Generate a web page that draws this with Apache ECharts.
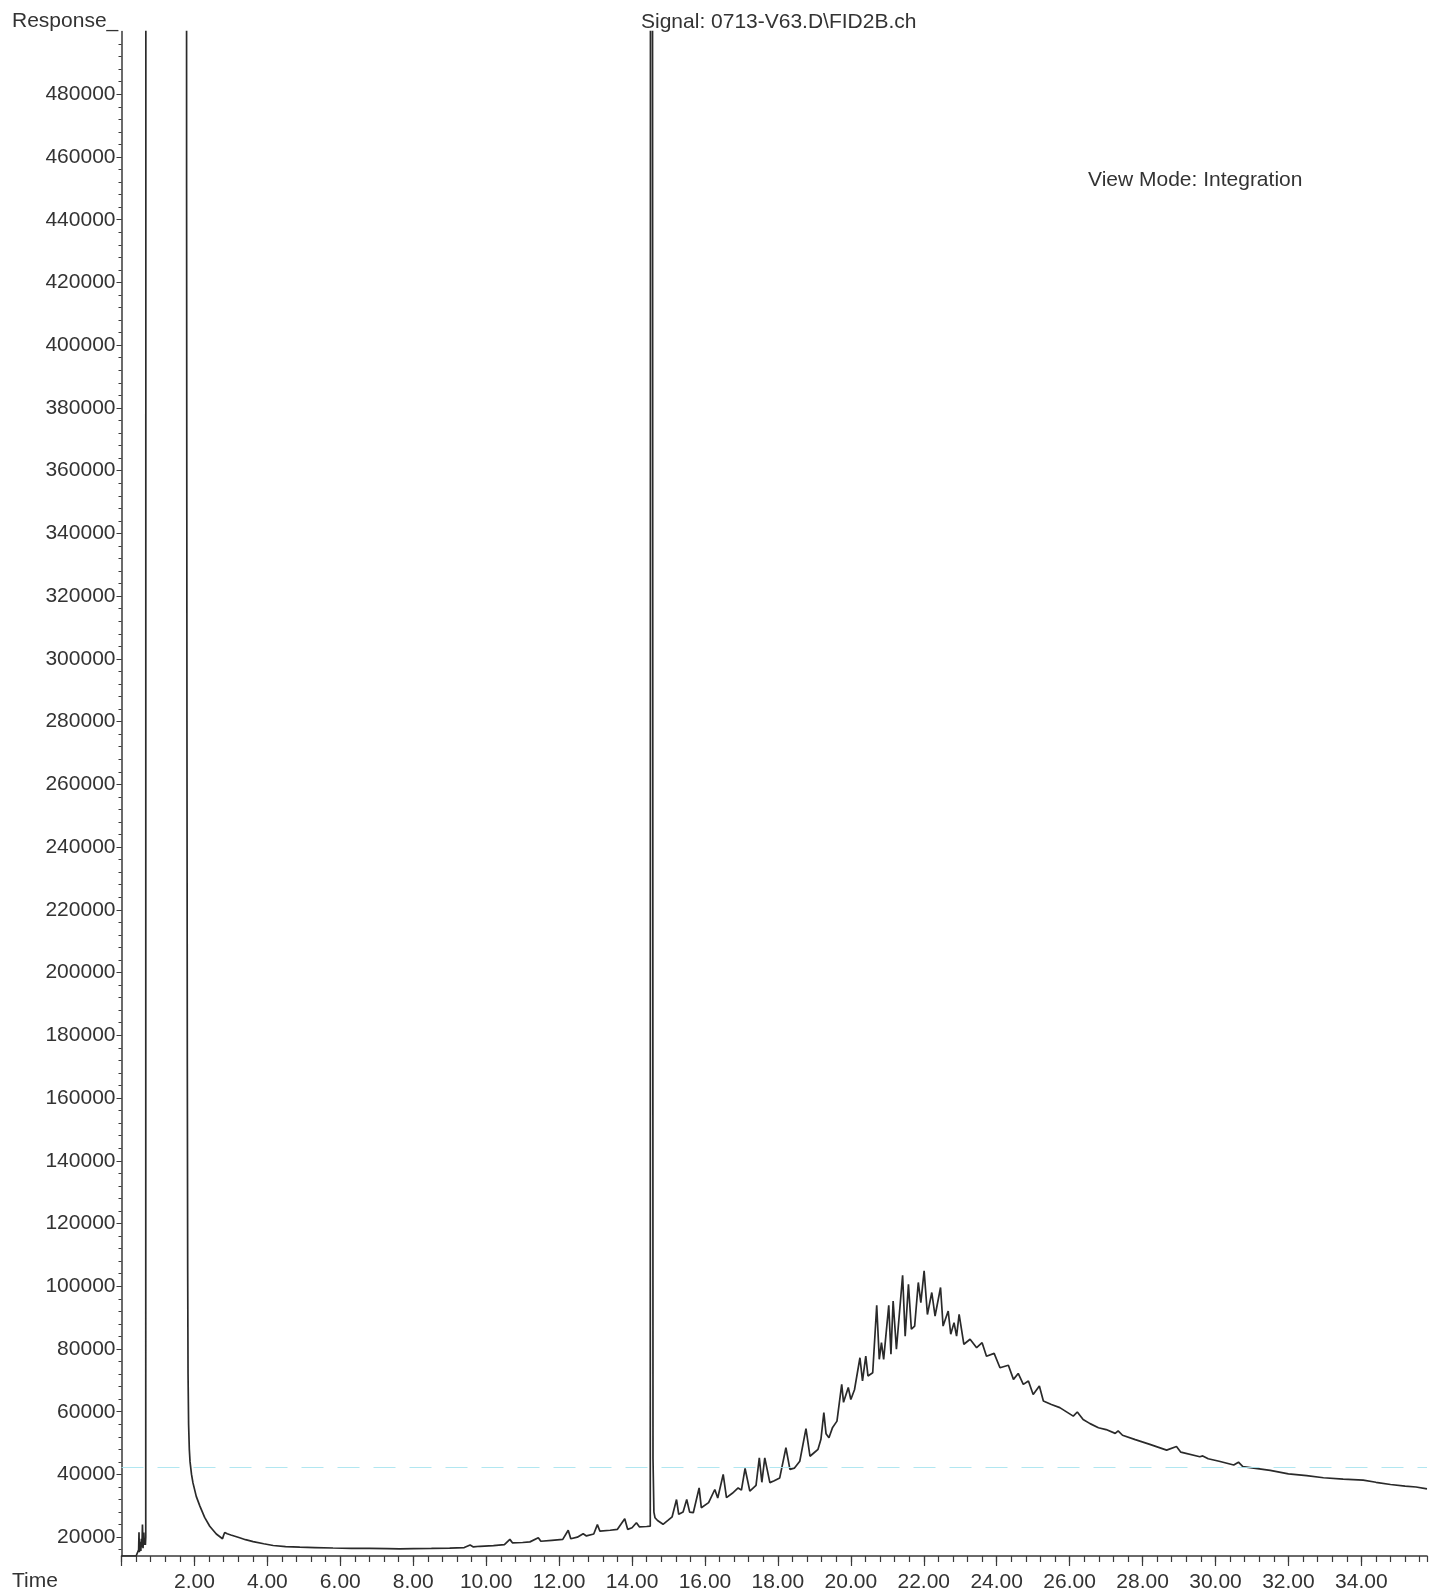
<!DOCTYPE html>
<html>
<head>
<meta charset="utf-8">
<title>Signal: 0713-V63.D\FID2B.ch</title>
<script src="https://cdn.jsdelivr.net/npm/echarts@6/dist/echarts.min.js"></script>
<style>
  html, body { margin: 0; padding: 0; background: #ffffff; }
  #chart { width: 1429px; height: 1593px; }
</style>
</head>
<body>
<div id="chart"></div>
<script>
// ---- data ----
const chartTitle = 'Signal: 0713-V63.D\\FID2B.ch';
const viewModeText = 'View Mode: Integration';
const yAxisName = 'Response_';
const xAxisName = 'Time';

// retention time (min)
const times = [
  0.00, 0.40, 0.44, 0.47, 0.48, 0.49, 0.51, 0.53, 0.545, 0.56, 0.575, 0.59, 0.61, 0.625, 0.64, 0.655, 0.665, 0.675,
  1.00, 1.50, 1.77, 1.785, 1.795, 1.805, 1.815, 1.825, 1.84, 1.86, 1.88, 1.92, 1.96, 2.05, 2.15, 2.28, 2.42, 2.60, 2.77,
  2.80, 2.83, 2.90, 3.00, 3.24, 3.40, 3.61, 3.90, 4.16, 4.50, 4.89, 5.30, 5.80, 6.30, 6.80, 7.30, 7.63, 8.00, 8.50,
  9.00, 9.40, 9.56, 9.65, 9.83, 10.20, 10.50, 10.65, 10.72, 11.00, 11.20, 11.43, 11.50, 11.80, 12.10, 12.25, 12.32,
  12.50, 12.66, 12.75, 12.95, 13.05, 13.12, 13.40, 13.60, 13.80, 13.88, 14.00, 14.12, 14.20, 14.40, 14.50, 14.52,
  14.56, 14.575, 14.60, 14.63, 14.70, 14.85, 15.00, 15.10, 15.22, 15.28, 15.40, 15.50, 15.58, 15.68, 15.84, 15.90,
  16.10, 16.27, 16.35, 16.50, 16.59, 16.75, 16.91, 17.00, 17.10, 17.23, 17.40, 17.49, 17.56, 17.64, 17.78, 17.90,
  18.05, 18.22, 18.33, 18.45, 18.60, 18.77, 18.88, 19.00, 19.10, 19.18, 19.26, 19.32, 19.40, 19.50, 19.62, 19.75,
  19.80, 19.93, 20.00, 20.10, 20.25, 20.32, 20.41, 20.47, 20.60, 20.71, 20.78, 20.84, 20.90, 21.04, 21.10, 21.16,
  21.25, 21.42, 21.49, 21.58, 21.66, 21.75, 21.85, 21.92, 22.01, 22.10, 22.22, 22.31, 22.46, 22.53, 22.67, 22.74,
  22.83, 22.90, 22.97, 23.10, 23.27, 23.45, 23.60, 23.72, 23.93, 24.09, 24.32, 24.46, 24.59, 24.73, 24.87, 25.00,
  25.17, 25.28, 25.50, 25.73, 26.10, 26.21, 26.37, 26.56, 26.79, 27.00, 27.25, 27.33, 27.45, 27.80, 28.20, 28.66,
  28.93, 29.05, 29.57, 29.65, 29.80, 30.10, 30.50, 30.63, 30.75, 31.00, 31.50, 32.00, 32.50, 32.96, 33.50, 34.05,
  34.40, 34.80, 35.20, 35.50, 35.80
];

// detector response
const response = [
  14000, 14000, 14200, 16000, 21600, 15200, 18500, 15600, 19500, 16800, 24000, 16500, 21500, 17500, 19000, 17500, 20000, 2000000,
  2000000, 2000000, 2000000, 450000, 280000, 170000, 105000, 72000, 56000, 48000, 44000, 40000, 37300, 33000, 29900, 26300, 23500, 21000, 19500,
  20600, 21500, 21100, 20700, 19800, 19200, 18600, 17900, 17350, 17000, 16800, 16700, 16550, 16450, 16400, 16350, 16300, 16350, 16400,
  16500, 16700, 17500, 16900, 17100, 17300, 17600, 19300, 18200, 18300, 18500, 19800, 18700, 19000, 19300, 22200, 19500,
  20000, 21100, 20400, 21000, 24000, 21900, 22200, 22500, 25900, 22500, 23000, 24600, 23300, 23400, 23500, 2000000,
  2000000, 45000, 28000, 26200, 25300, 24100, 25500, 26500, 32000, 27300, 28000, 32000, 28000, 27800, 35700, 29400,
  31000, 35200, 32500, 40000, 32600, 34000, 35700, 35000, 41900, 34700, 36500, 45300, 37500, 45300, 37400, 38000,
  38900, 48500, 41600, 42000, 44200, 54600, 45800, 47000, 48000, 51200, 59700, 53000, 51700, 55000, 57000, 68700,
  63000, 67700, 63900, 67000, 77200, 69800, 77700, 71400, 72400, 93900, 76700, 82000, 76700, 93900, 78300, 95300,
  79900, 103500, 84100, 100600, 86300, 87300, 101200, 94800, 104900, 91000, 98000, 90500, 99600, 87300, 92100, 84700,
  88400, 84100, 91000, 81500, 83100, 80400, 82000, 77700, 78600, 74000, 74800, 70300, 72200, 68700, 69800, 65500,
  68200, 63400, 62300, 61300, 58600, 59900, 57500, 56200, 54900, 54300, 53100, 53900, 52500, 51100, 49600, 47750,
  48900, 47100, 45650, 45900, 45000, 44200, 43000, 43900, 42500, 42100, 41300, 40200, 39600, 38950, 38500, 38200,
  37500, 36800, 36300, 36000, 35400
];

// axis scale and tick labels
const xMin = 0, xMax = 35.8, xMajorStep = 2, xMinorStep = 0.4;
const yMin = 14000, yMax = 500000;
const yLabelValues = [20000, 40000, 60000, 80000, 100000, 120000, 140000, 160000, 180000, 200000, 220000, 240000,
  260000, 280000, 300000, 320000, 340000, 360000, 380000, 400000, 420000, 440000, 460000, 480000];
const yMinorValues = [];
for (let v = 16000; v <= 496000; v += 4000) yMinorValues.push(v);
const scanLineValue = 42400;

// ---- chart ----
const chart = echarts.init(document.getElementById('chart'), null, { renderer: 'canvas' });
const FONT = '"Liberation Sans", Arial, Helvetica, sans-serif';
const TXT = '#333333';
const AX = '#3a3a3a';
const FS = 21;
const grid = { left: 121.5, right: 2, top: 31.5, bottom: 36 };

const seriesData = times.map((t, i) => [t, response[i]]);

const isMajor = v => Math.abs(v / xMajorStep - Math.round(v / xMajorStep)) < 1e-6;

chart.setOption({
  animation: false,
  backgroundColor: '#ffffff',
  grid: grid,
  graphic: [
    { type: 'text', left: 12, top: 11, style: { text: yAxisName, font: FS + 'px ' + FONT, fill: TXT } },
    { type: 'text', left: 12, top: 1571, style: { text: xAxisName, font: FS + 'px ' + FONT, fill: TXT } },
    { type: 'text', left: 641, top: 12, style: { text: chartTitle, font: FS + 'px ' + FONT, fill: TXT } },
    { type: 'text', left: 1088, top: 170, style: { text: viewModeText, font: FS + 'px ' + FONT, fill: TXT } }
  ],
  xAxis: [
    {
      type: 'value', min: xMin, max: xMax, interval: xMinorStep,
      axisLine: { show: true, lineStyle: { color: AX, width: 1.5 } },
      axisTick: { show: true, inside: false, length: 6, lineStyle: { color: AX, width: 1.2 } },
      axisLabel: { show: false },
      splitLine: { show: false }
    },
    {
      type: 'value', min: xMin, max: xMax, interval: xMajorStep, position: 'bottom',
      axisLine: { show: false },
      axisTick: { show: true, inside: false, length: 10, lineStyle: { color: AX, width: 1.2 } },
      axisLabel: {
        show: true, margin: 16, color: TXT, fontSize: FS, fontFamily: FONT,
        showMaxLabel: false,
        formatter: v => (v > 0 && isMajor(v)) ? v.toFixed(2) : ''
      },
      splitLine: { show: false }
    }
  ],
  yAxis: [
    {
      type: 'value', min: yMin, max: yMax,
      axisLine: { show: true, lineStyle: { color: AX, width: 1.5 } },
      axisTick: { show: true, inside: false, length: 3, customValues: yMinorValues, lineStyle: { color: AX, width: 1 } },
      axisLabel: {
        show: true, margin: 6, color: TXT, fontSize: FS, fontFamily: FONT, customValues: yLabelValues,
        formatter: v => String(Math.round(v))
      },
      splitLine: { show: false }
    },
    {
      type: 'value', min: yMin, max: yMax, position: 'left',
      axisLine: { show: false },
      axisTick: { show: true, inside: false, length: 5, customValues: yLabelValues, lineStyle: { color: AX, width: 1 } },
      axisLabel: { show: false },
      splitLine: { show: false }
    }
  ],
  series: [
    {
      type: 'line',
      data: seriesData,
      xAxisIndex: 0, yAxisIndex: 0,
      showSymbol: false,
      symbol: 'none',
      clip: true,
      lineStyle: { color: '#2a2a2a', width: 1.7 },
      markLine: {
        silent: true, symbol: 'none', label: { show: false },
        lineStyle: { color: '#a8e4ef', type: [22, 14], width: 1, opacity: 0.9 },
        data: [{ yAxis: scanLineValue }]
      }
    }
  ]
});
</script>
</body>
</html>
